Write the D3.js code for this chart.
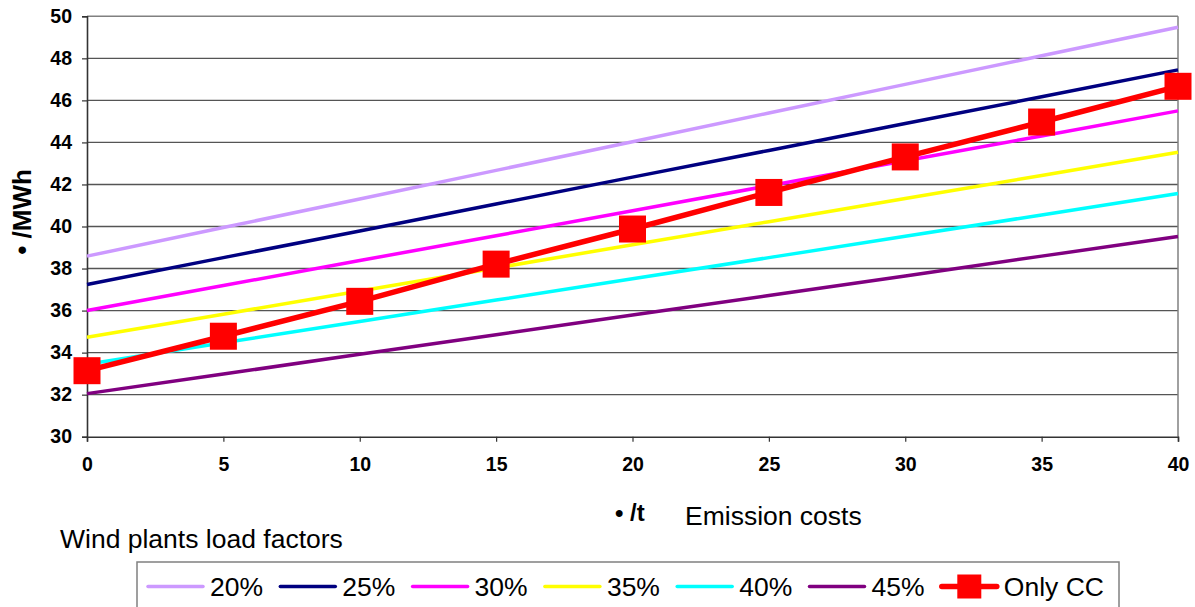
<!DOCTYPE html>
<html>
  <head>
    <meta charset="utf-8">
    <title>Emission costs</title>
    <script src="https://cdn.jsdelivr.net/npm/d3@7"></script>
    <style>
      html, body { margin: 0; padding: 0; background: #fff; }
      svg { display: block; font-family: "Liberation Sans", Arial, sans-serif; }
    </style>
  </head>
  <body>
    <div id="chart"></div>
    <script>
      // emission cost (x) in €/t
      var costs = [0, 5, 10, 15, 20, 25, 30, 35, 40];
      var yTicks = [30, 32, 34, 36, 38, 40, 42, 44, 46, 48, 50];

      // wind load factor series, €/MWh
      var lf20 = [38.59, 39.95, 41.31, 42.67, 44.03, 45.40, 46.76, 48.12, 49.48];
      var lf25 = [37.24, 38.52, 39.79, 41.07, 42.35, 43.62, 44.90, 46.17, 47.45];
      var lf30 = [36.00, 37.19, 38.38, 39.56, 40.75, 41.94, 43.13, 44.31, 45.50];
      var lf35 = [34.73, 35.83, 36.93, 38.03, 39.13, 40.23, 41.33, 42.43, 43.53];
      var lf40 = [33.45, 34.47, 35.48, 36.50, 37.51, 38.52, 39.54, 40.55, 41.57];
      var lf45 = [32.05, 32.98, 33.92, 34.85, 35.79, 36.72, 37.65, 38.59, 39.52];
      var onlyCC = [33.14, 34.78, 36.44, 38.21, 39.88, 41.62, 43.31, 44.97, 46.67];

      var seriesNames = ["20%", "25%", "30%", "35%", "40%", "45%", "Only CC"];
      var seriesColors = ["#cc99ff", "#000080", "#ff00ff", "#ffff00", "#00ffff", "#800080", "#ff0000"];

      var W = 1195, H = 607;
      var pLeft = 87, pRight = 1178, pTop = 16.3, pBottom = 436.7;

      var svg = d3.select("#chart").append("svg")
        .attr("width", W)
        .attr("height", H);

      var x = d3.scaleLinear().domain([0, 40]).range([pLeft, pRight]);
      var y = d3.scaleLinear().domain([30, 50]).range([pBottom, pTop]);

      // gridlines
      svg.append("g").selectAll("line")
        .data(yTicks.filter(function(d) { return d > 30 && d < 50; }))
        .enter().append("line")
        .attr("x1", pLeft).attr("x2", pRight)
        .attr("y1", function(d) { return y(d); })
        .attr("y2", function(d) { return y(d); })
        .attr("stroke", "#555")
        .attr("stroke-width", 1.4);

      // plot frame top/right
      svg.append("line").attr("x1", pLeft).attr("x2", pRight).attr("y1", pTop).attr("y2", pTop)
        .attr("stroke", "#808080").attr("stroke-width", 1.5);
      svg.append("line").attr("x1", pRight).attr("x2", pRight).attr("y1", pTop).attr("y2", pBottom)
        .attr("stroke", "#808080").attr("stroke-width", 1.5);

      // axes
      var yAxis = svg.append("g")
        .attr("transform", "translate(" + pLeft + ",0)")
        .call(d3.axisLeft(y).tickValues(yTicks).tickSize(5).tickPadding(10));
      var xAxis = svg.append("g")
        .attr("transform", "translate(0," + pBottom + ")")
        .call(d3.axisBottom(x).tickValues(costs).tickSize(5).tickPadding(15));

      [yAxis, xAxis].forEach(function(ax) {
        ax.select(".domain").attr("stroke", "#333").attr("stroke-width", 1.6);
        ax.selectAll(".tick line").attr("stroke", "#333").attr("stroke-width", 1.2);
        ax.selectAll(".tick text")
          .attr("fill", "#000")
          .style("font-size", "19.5px")
          .style("font-weight", "bold")
          .style("font-family", "'Liberation Sans', Arial, sans-serif");
      });

      // series lines
      var line = d3.line()
        .x(function(d, i) { return x(costs[i]); })
        .y(function(d) { return y(d); });

      var allSeries = [lf20, lf25, lf30, lf35, lf40, lf45];
      allSeries.forEach(function(s, k) {
        svg.append("path")
          .datum(s)
          .attr("d", line)
          .attr("fill", "none")
          .attr("stroke", seriesColors[k])
          .attr("stroke-width", 3.5);
      });

      svg.append("path")
        .datum(onlyCC)
        .attr("d", line)
        .attr("fill", "none")
        .attr("stroke", seriesColors[6])
        .attr("stroke-width", 5.5);

      var mk = 27;
      svg.append("g").selectAll("rect")
        .data(onlyCC)
        .enter().append("rect")
        .attr("x", function(d, i) { return x(costs[i]) - mk / 2; })
        .attr("y", function(d) { return y(d) - mk / 2; })
        .attr("width", mk)
        .attr("height", mk)
        .attr("fill", "#ff0000");

      // axis titles
      svg.append("text")
        .attr("transform", "translate(31,212) rotate(-90)")
        .attr("text-anchor", "middle")
        .style("font-size", "26px")
        .style("font-weight", "bold")
        .text("• /MWh");

      svg.append("text")
        .attr("x", 615).attr("y", 521)
        .style("font-size", "24px")
        .style("font-weight", "bold")
        .text("• /t");

      svg.append("text")
        .attr("x", 685).attr("y", 525)
        .style("font-size", "26.5px")
        .text("Emission costs");

      svg.append("text")
        .attr("x", 60).attr("y", 548)
        .style("font-size", "26.5px")
        .text("Wind plants load factors");

      // legend
      var legend = svg.append("g");
      legend.append("rect")
        .attr("x", 137).attr("y", 562)
        .attr("width", 1119 - 137).attr("height", 60)
        .attr("fill", "none")
        .attr("stroke", "#808080")
        .attr("stroke-width", 1.5);

      var legY = 586.5, step = 132.3, x0 = 148;
      seriesNames.forEach(function(name, k) {
        var lx = x0 + k * step;
        legend.append("line")
          .attr("x1", lx).attr("x2", lx + 55)
          .attr("y1", legY).attr("y2", legY)
          .attr("stroke", seriesColors[k])
          .attr("stroke-width", k === 6 ? 5.5 : 3.5)
          .attr("stroke-linecap", "round");
        if (k === 6) {
          legend.append("rect")
            .attr("x", lx + 27.5 - 12).attr("y", legY - 12)
            .attr("width", 24).attr("height", 24)
            .attr("fill", "#ff0000");
        }
        legend.append("text")
          .attr("x", lx + 62).attr("y", legY + 9.5)
          .style("font-size", "26.5px")
          .text(name);
      });
    </script>
  </body>
</html>
